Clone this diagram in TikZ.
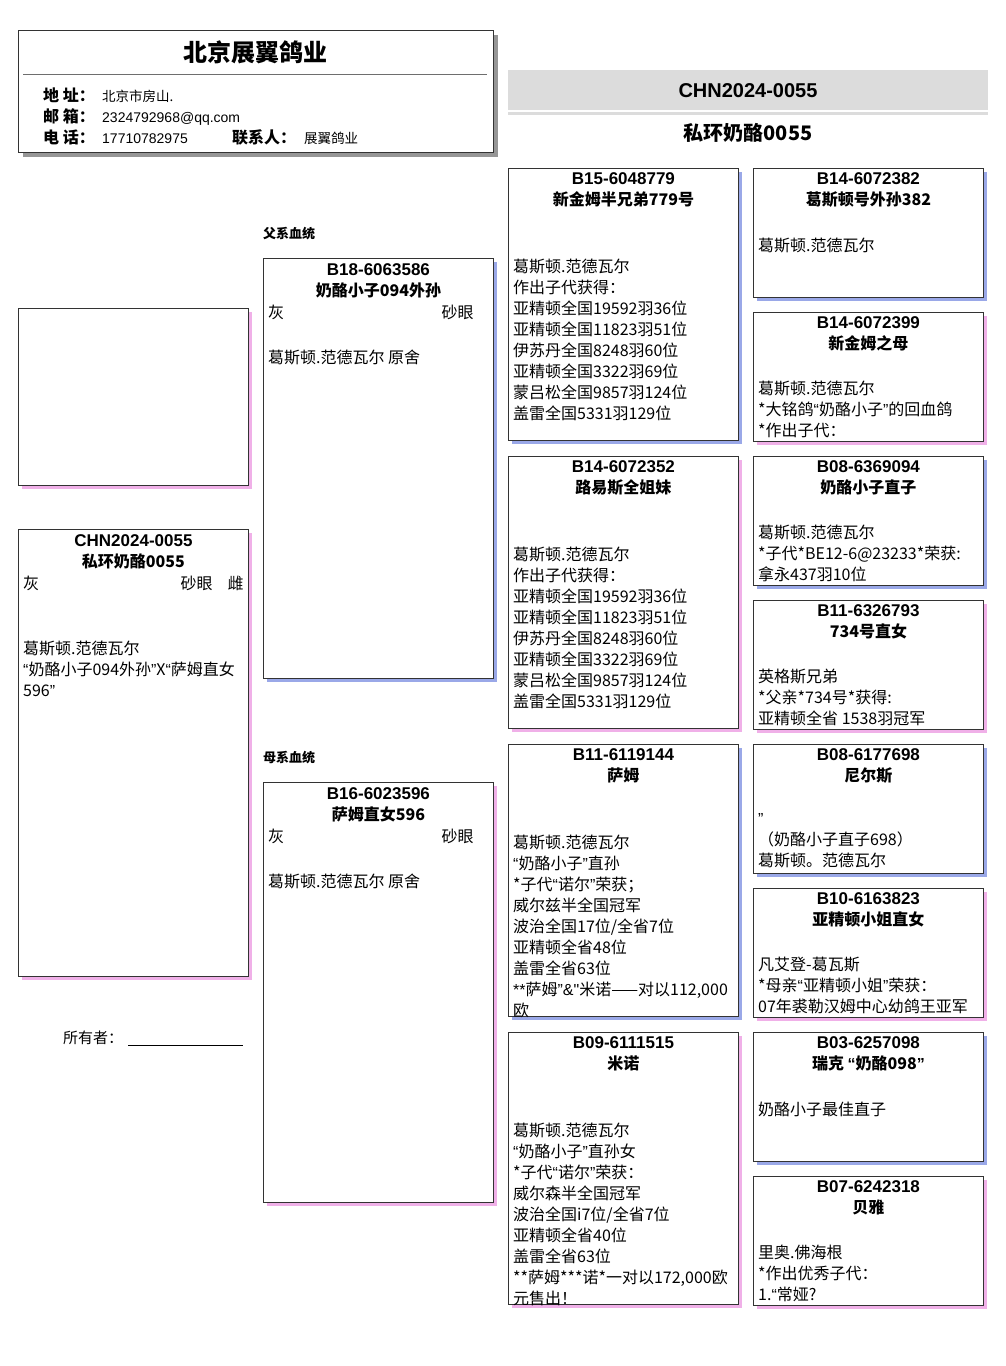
\documentclass[tikz,border=0pt]{standalone}
\usepackage{fontspec}
\setmainfont{Noto Sans CJK SC}
\newfontfamily\latinfont{Liberation Sans}
\newcommand{\oq}{{\latinfont “}}
\newcommand{\cq}{{\latinfont ”}}
\usetikzlibrary{shadows}

\definecolor{shblue}{RGB}{154,168,232}
\definecolor{shpink}{RGB}{240,176,232}
\definecolor{shgray}{RGB}{150,150,150}
\definecolor{bandgray}{RGB}{220,220,220}
\definecolor{rulegray}{RGB}{110,110,110}
\definecolor{boxline}{RGB}{51,51,51}

\tikzset{
  card/.style={draw=boxline, fill=white, line width=0.9pt, anchor=north west,
    inner sep=0pt, minimum width=230pt},
  sirecard/.style={card, drop shadow={shadow xshift=4pt, shadow yshift=-4pt, fill=shblue, opacity=1}},
  damcard/.style={card, drop shadow={shadow xshift=4pt, shadow yshift=-4pt, fill=shpink, opacity=1}},
  loftbox/.style={draw=boxline, fill=white, line width=1.2pt, anchor=north west, inner sep=0pt,
    drop shadow={shadow xshift=4pt, shadow yshift=-4pt, fill=shgray, opacity=1}},
  ringno/.style={anchor=base, inner sep=0pt, font=\latinfont\bfseries\fontsize{17}{21}\selectfont},
  birdname/.style={anchor=base, inner sep=0pt, font=\bfseries\fontsize{16}{21}\selectfont},
  trait/.style={anchor=base west, inner sep=0pt, font=\fontsize{16}{21}\selectfont},
  notes/.style={anchor=north west, inner sep=0pt, align=left, font=\fontsize{16}{21}\selectfont,
    execute at begin node=\strut},
  infokey/.style={anchor=base west, inner sep=0pt, font=\bfseries\fontsize{16}{20}\selectfont},
  infoval/.style={anchor=base west, inner sep=0pt, font=\fontsize{13.5}{16}\selectfont},
  lineage/.style={anchor=base west, inner sep=0pt, font=\bfseries\fontsize{13}{16}\selectfont},
}

\begin{document}
\begin{tikzpicture}[x=1pt,y=-1pt]
\useasboundingbox (0,0) rectangle (1006,1366);

% loft header
\node[loftbox, minimum width=475pt, minimum height=122pt] (loft) at (18,30) {};
\node[anchor=base, font=\bfseries\fontsize{24}{28}\selectfont] (loftname) at (255,61) {北京展翼鸽业};
\draw[rulegray, line width=0.8pt] (23,74) -- (487,74);
\node[infokey] (addrkey) at (43,101.5) {地 址：};
\node[infoval] (addrval) at (102,101.5) {北京市房山.};
\node[infokey] (mailkey) at (43,122.5) {邮 箱：};
\node[infoval, font=\latinfont\fontsize{14}{16}\selectfont] (mailval) at (102,122.5) {2324792968@qq.com};
\node[infokey] (telkey) at (43,143.5) {电 话：};
\node[infoval, font=\latinfont\fontsize{14}{16}\selectfont] (telval) at (102,143.5) {17710782975};
\node[infokey] (contactkey) at (232,143.5) {联系人：};
\node[infoval] (contactval) at (304,143.5) {展翼鸽业};

% pigeon heading
\node[fill=bandgray, anchor=north west, inner sep=0pt, minimum width=480pt, minimum height=40pt] (band) at (508,70) {};
\node[anchor=base, font=\latinfont\bfseries\fontsize{20}{24}\selectfont] (bandring) at (748,97) {CHN2024-0055};
\fill[bandgray] (508,112) rectangle (988,115);
\node[anchor=base, font=\bfseries\fontsize{20}{24}\selectfont] (bandname) at (748,140.5) {私环奶酪0055};

% column 1
\node[damcard, minimum height=177pt] (photo) at (18,308) {};
\node[damcard, minimum height=447pt] (chick) at (18,529) {};
\node[ringno] (chickring) at ([yshift=-17pt]chick.north) {CHN2024-0055};
\node[birdname] (chickname) at ([yshift=-38pt]chick.north) {私环奶酪0055};
\node[trait] (chickcolour) at ([xshift=5pt,yshift=-60pt]chick.north west) {灰};
\node[trait, anchor=base east] (chickeye) at ([xshift=-36pt,yshift=-60pt]chick.north east) {砂眼};
\node[trait, anchor=base east] (chicksex) at ([xshift=-5pt,yshift=-60pt]chick.north east) {雌};
\node[notes] (chicknotes) at ([xshift=5pt,yshift=-112pt]chick.north west) {葛斯顿.范德瓦尔\\\oq{}奶酪小子094外孙\cq{}X\oq{}萨姆直女\\596\cq{}};
\node[trait, font=\fontsize{15}{18}\selectfont] (owner) at (63,1043) {所有者：};
\coordinate (ownerline) at (128,1045);
\draw[line width=0.8pt] (ownerline) -- ++(115,0);

% column 2
\node[lineage] (sireline) at (263,238) {父系血统};
\node[sirecard, minimum height=420pt] (sire) at (263,258) {};
\node[ringno] (sirering) at ([yshift=-17pt]sire.north) {B18-6063586};
\node[birdname] (sirename) at ([yshift=-38pt]sire.north) {奶酪小子094外孙};
\node[trait] (sirecolour) at ([xshift=5pt,yshift=-60pt]sire.north west) {灰};
\node[trait, anchor=base east] (sireeye) at ([xshift=-20pt,yshift=-60pt]sire.north east) {砂眼};
\node[notes] (sirenotes) at ([xshift=5pt,yshift=-91pt]sire.north west) {葛斯顿.范德瓦尔 原舍};

\node[lineage] (damline) at (263,762) {母系血统};
\node[damcard, minimum height=420pt] (dam) at (263,782) {};
\node[ringno] (damring) at ([yshift=-17pt]dam.north) {B16-6023596};
\node[birdname] (damname) at ([yshift=-38pt]dam.north) {萨姆直女596};
\node[trait] (damcolour) at ([xshift=5pt,yshift=-60pt]dam.north west) {灰};
\node[trait, anchor=base east] (dameye) at ([xshift=-20pt,yshift=-60pt]dam.north east) {砂眼};
\node[notes] (damnotes) at ([xshift=5pt,yshift=-91pt]dam.north west) {葛斯顿.范德瓦尔 原舍};

% column 3
\node[sirecard, minimum height=272pt] (ss) at (508,168) {};
\node[ringno] (ssring) at ([yshift=-16.5pt]ss.north) {B15-6048779};
\node[birdname] (ssname) at ([yshift=-37.5pt]ss.north) {新金姆半兄弟779号};
\node[notes] (ssnotes) at ([xshift=5pt,yshift=-91pt]ss.north west) {葛斯顿.范德瓦尔\\作出子代获得：\\亚精顿全国19592羽36位\\亚精顿全国11823羽51位\\伊苏丹全国8248羽60位\\亚精顿全国3322羽69位\\蒙吕松全国9857羽124位\\盖雷全国5331羽129位};

\node[damcard, minimum height=272pt] (sd) at (508,456) {};
\node[ringno] (sdring) at ([yshift=-16.5pt]sd.north) {B14-6072352};
\node[birdname] (sdname) at ([yshift=-37.5pt]sd.north) {路易斯全姐妹};
\node[notes] (sdnotes) at ([xshift=5pt,yshift=-91pt]sd.north west) {葛斯顿.范德瓦尔\\作出子代获得：\\亚精顿全国19592羽36位\\亚精顿全国11823羽51位\\伊苏丹全国8248羽60位\\亚精顿全国3322羽69位\\蒙吕松全国9857羽124位\\盖雷全国5331羽129位};

\node[sirecard, minimum height=272pt] (ds) at (508,744) {};
\node[ringno] (dsring) at ([yshift=-16.5pt]ds.north) {B11-6119144};
\node[birdname] (dsname) at ([yshift=-37.5pt]ds.north) {萨姆};
\node[notes] (dsnotes) at ([xshift=5pt,yshift=-91pt]ds.north west) {葛斯顿.范德瓦尔\\\oq{}奶酪小子\cq{}直孙\\*子代\oq{}诺尔\cq{}荣获；\\威尔兹半全国冠军\\波治全国17位/全省7位\\亚精顿全省48位\\盖雷全省63位\\{\latinfont **}萨姆\cq{}{\latinfont \&"}米诺——对以112,000\\欧};

\node[damcard, minimum height=272pt] (dd) at (508,1032) {};
\node[ringno] (ddring) at ([yshift=-16.5pt]dd.north) {B09-6111515};
\node[birdname] (ddname) at ([yshift=-37.5pt]dd.north) {米诺};
\node[notes] (ddnotes) at ([xshift=5pt,yshift=-91pt]dd.north west) {葛斯顿.范德瓦尔\\\oq{}奶酪小子\cq{}直孙女\\*子代\oq{}诺尔\cq{}荣获：\\威尔森半全国冠军\\波治全国i7位/全省7位\\亚精顿全省40位\\盖雷全省63位\\**萨姆***诺*一对以172,000欧\\元售出！};

% column 4
\node[sirecard, minimum height=129pt] (sss) at (753,168) {};
\node[ringno] (sssring) at ([yshift=-16.5pt]sss.north) {B14-6072382};
\node[birdname] (sssname) at ([yshift=-37.5pt]sss.north) {葛斯顿号外孙382};
\node[notes] (sssnotes) at ([xshift=5pt,yshift=-69pt]sss.north west) {葛斯顿.范德瓦尔};

\node[damcard, minimum height=129pt] (ssd) at (753,312) {};
\node[ringno] (ssdring) at ([yshift=-16.5pt]ssd.north) {B14-6072399};
\node[birdname] (ssdname) at ([yshift=-37.5pt]ssd.north) {新金姆之母};
\node[notes] (ssdnotes) at ([xshift=5pt,yshift=-69pt]ssd.north west) {葛斯顿.范德瓦尔\\*大铭鸽\oq{}奶酪小子\cq{}的回血鸽\\*作出子代：};

\node[sirecard, minimum height=129pt] (sds) at (753,456) {};
\node[ringno] (sdsring) at ([yshift=-16.5pt]sds.north) {B08-6369094};
\node[birdname] (sdsname) at ([yshift=-37.5pt]sds.north) {奶酪小子直子};
\node[notes] (sdsnotes) at ([xshift=5pt,yshift=-69pt]sds.north west) {葛斯顿.范德瓦尔\\*子代*BE12-6@23233*荣获:\\拿永437羽10位};

\node[damcard, minimum height=129pt] (sdd) at (753,600) {};
\node[ringno] (sddring) at ([yshift=-16.5pt]sdd.north) {B11-6326793};
\node[birdname] (sddname) at ([yshift=-37.5pt]sdd.north) {734号直女};
\node[notes] (sddnotes) at ([xshift=5pt,yshift=-69pt]sdd.north west) {英格斯兄弟\\*父亲*734号*获得:\\亚精顿全省 1538羽冠军};

\node[sirecard, minimum height=129pt] (dss) at (753,744) {};
\node[ringno] (dssring) at ([yshift=-16.5pt]dss.north) {B08-6177698};
\node[birdname] (dssname) at ([yshift=-37.5pt]dss.north) {尼尔斯};
\node[notes] (dssnotes) at ([xshift=5pt,yshift=-69pt]dss.north west) {\cq{}\\（奶酪小子直子698）\\葛斯顿。范德瓦尔};

\node[damcard, minimum height=129pt] (dsd) at (753,888) {};
\node[ringno] (dsdring) at ([yshift=-16.5pt]dsd.north) {B10-6163823};
\node[birdname] (dsdname) at ([yshift=-37.5pt]dsd.north) {亚精顿小姐直女};
\node[notes] (dsdnotes) at ([xshift=5pt,yshift=-69pt]dsd.north west) {凡艾登-葛瓦斯\\*母亲\oq{}亚精顿小姐\cq{}荣获：\\07年裘勒汉姆中心幼鸽王亚军};

\node[sirecard, minimum height=129pt] (dds) at (753,1032) {};
\node[ringno] (ddsring) at ([yshift=-16.5pt]dds.north) {B03-6257098};
\node[birdname] (ddsname) at ([yshift=-37.5pt]dds.north) {瑞克 \oq{}奶酪098\cq{}};
\node[notes] (ddsnotes) at ([xshift=5pt,yshift=-69pt]dds.north west) {奶酪小子最佳直子};

\node[damcard, minimum height=129pt] (ddd) at (753,1176) {};
\node[ringno] (dddring) at ([yshift=-16.5pt]ddd.north) {B07-6242318};
\node[birdname] (dddname) at ([yshift=-37.5pt]ddd.north) {贝雅};
\node[notes] (dddnotes) at ([xshift=5pt,yshift=-69pt]ddd.north west) {里奥.佛海根\\*作出优秀子代：\\1.\oq{}常娅?};
\end{tikzpicture}
\end{document}
